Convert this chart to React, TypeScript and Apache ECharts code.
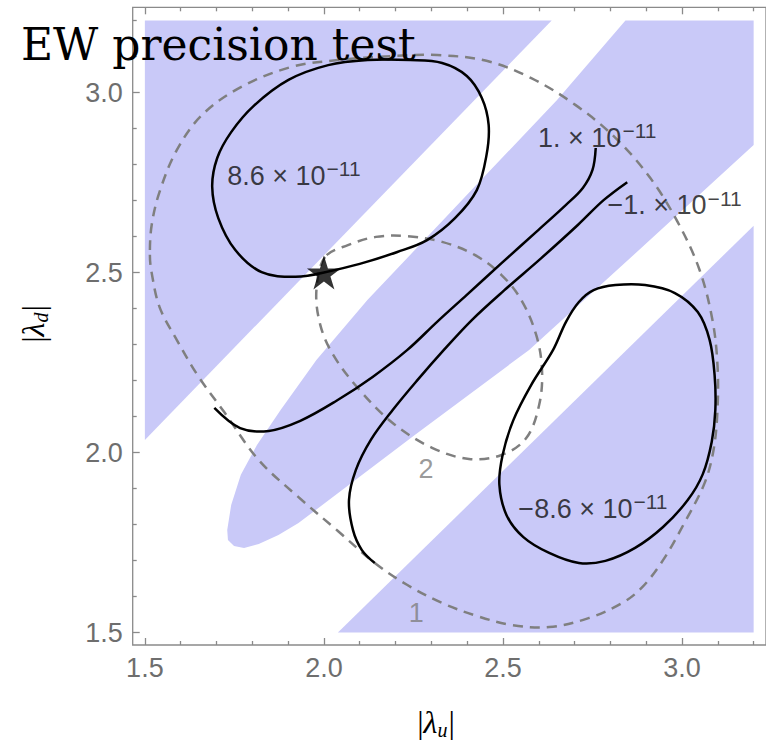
import React, { useEffect, useRef } from "react";
import * as echarts from "echarts";

// ---- axes ----
const X_MIN = 1.466;
const X_MAX = 3.2345;
const Y_MIN = 1.4653;
const Y_MAX = 3.2367;
const xMajorTicks = [1.5, 2.0, 2.5, 3.0];
const yMajorTicks = [1.5, 2.0, 2.5, 3.0];
const minorTicks = [1.6, 1.7, 1.8, 1.9, 2.1, 2.2, 2.3, 2.4, 2.6, 2.7, 2.8, 2.9, 3.1, 3.2];

// ---- shaded (allowed) regions ----
const regionTopLeft = [[1.5, 3.2], [2.636, 3.2], [1.5, 2.035]];
const regionBand = [
  [2.842, 3.2], [3.2, 3.2], [3.2, 2.854], [2.886, 2.568], [2.573, 2.285], [2.25, 2.046],
  [1.929, 1.804], [1.873, 1.771], [1.818, 1.746], [1.777, 1.735], [1.749, 1.74], [1.732, 1.757],
  [1.73, 1.785], [1.741, 1.854], [1.768, 1.938], [1.813, 2.021], [1.879, 2.118], [1.979, 2.257],
  [2.122, 2.424], [2.399, 2.715], [2.651, 2.979],
];
const regionBottomRight = [[2.039, 1.5], [3.2, 1.5], [3.2, 2.63]];

// ---- contours ----
const contourPos86 = [
  [2.0, 2.5], [1.92, 2.488], [1.826, 2.501], [1.752, 2.563], [1.705, 2.651], [1.688, 2.738],
  [1.702, 2.818], [1.741, 2.89], [1.804, 2.963], [1.901, 3.035], [2.012, 3.076], [2.122, 3.09],
  [2.241, 3.09], [2.33, 3.082], [2.399, 3.046], [2.441, 2.985], [2.46, 2.91], [2.454, 2.826],
  [2.427, 2.729], [2.366, 2.651], [2.288, 2.59], [2.205, 2.557], [2.1, 2.524], [2.0, 2.5],
];
const contourPos1 = [
  [2.759, 2.846], [2.75, 2.785], [2.723, 2.735], [2.676, 2.688], [2.593, 2.613], [2.496, 2.526],
  [2.399, 2.438], [2.316, 2.363], [2.233, 2.285], [2.136, 2.21], [2.034, 2.143], [1.934, 2.088],
  [1.846, 2.06], [1.766, 2.068], [1.694, 2.124],
];
const contourNeg1 = [
  [2.847, 2.751], [2.781, 2.701], [2.709, 2.632], [2.607, 2.54], [2.504, 2.451], [2.413, 2.368],
  [2.335, 2.285], [2.261, 2.201], [2.192, 2.118], [2.131, 2.035], [2.089, 1.951], [2.07, 1.868],
  [2.081, 1.785], [2.106, 1.729], [2.142, 1.693],
];
const contourNeg86 = [
  [2.64, 2.285], [2.676, 2.363], [2.712, 2.418], [2.753, 2.451], [2.814, 2.465], [2.897, 2.465],
  [2.98, 2.443], [3.044, 2.39], [3.077, 2.313], [3.091, 2.215], [3.093, 2.118], [3.083, 2.03],
  [3.058, 1.94], [3.016, 1.868], [2.947, 1.793], [2.869, 1.735], [2.786, 1.699], [2.712, 1.693],
  [2.629, 1.721], [2.557, 1.765], [2.51, 1.826], [2.49, 1.91], [2.499, 1.993], [2.529, 2.09],
  [2.579, 2.188],
];

// ---- dashed contours ----
const dashed1 = [
  [1.514, 2.549], [1.519, 2.499], [1.541, 2.404], [1.589, 2.313], [1.647, 2.215], [1.721, 2.113],
  [1.818, 1.979], [1.929, 1.876], [2.039, 1.782], [2.142, 1.693], [2.233, 1.632], [2.33, 1.582],
  [2.427, 1.546], [2.524, 1.521], [2.629, 1.515], [2.739, 1.54], [2.833, 1.582], [2.889, 1.626],
  [2.947, 1.701], [3.008, 1.807], [3.063, 1.915], [3.088, 2.007], [3.099, 2.118], [3.099, 2.243],
  [3.085, 2.368], [3.049, 2.507], [2.988, 2.64], [2.911, 2.763], [2.814, 2.874], [2.703, 2.965],
  [2.579, 3.04], [2.454, 3.088], [2.316, 3.104], [2.186, 3.101], [2.039, 3.09], [1.909, 3.071],
  [1.768, 3.015], [1.66, 2.938], [1.589, 2.84], [1.541, 2.724], [1.519, 2.632],
];
const dashed2 = [
  [2.003, 2.543], [1.979, 2.451], [1.99, 2.354], [2.026, 2.271], [2.095, 2.179], [2.192, 2.082],
  [2.302, 2.013], [2.405, 1.982], [2.496, 1.993], [2.565, 2.04], [2.601, 2.132], [2.609, 2.229],
  [2.593, 2.326], [2.551, 2.424], [2.496, 2.493], [2.421, 2.549], [2.33, 2.585], [2.233, 2.601],
  [2.145, 2.599], [2.067, 2.576],
];

const starPoint = [[2.0, 2.5]];

const contourLabels = [
  { pos: [1.73, 2.774], base: "8.6 × 10", exp: "−11" },
  { pos: [2.598, 2.88], base: "1. × 10", exp: "−11" },
  { pos: [2.792, 2.693], base: "−1. × 10", exp: "−11" },
  { pos: [2.543, 1.849], base: "−8.6 × 10", exp: "−11" },
];
const dashedLabels = [
  { pos: [2.285, 1.955], text: "2" },
  { pos: [2.258, 1.555], text: "1" },
];

const BLUE = "#c9c9f8";
const GRAY = "#8a8a8a";
const LABEL_GRAY = "#6e6e6e";
const SANS = "Liberation Sans, Arial, sans-serif";

function shapeSeries(name: string, pts: number[][], closed: boolean, style: any, z: number) {
  return {
    type: "custom",
    name,
    coordinateSystem: "cartesian2d",
    xAxisIndex: 0,
    yAxisIndex: 0,
    z,
    silent: true,
    data: [[2, 2]],
    renderItem: (_params: any, api: any) => ({
      type: closed ? "polygon" : "polyline",
      shape: { points: pts.map((p) => api.coord(p)), smooth: style.smooth ?? 0 },
      style: style.fill
        ? { fill: style.fill, stroke: "none" }
        : { fill: "none", stroke: style.color, lineWidth: style.width, lineDash: style.dash },
    }),
  };
}

function xAxisDef(position: string, ticks: number[], len: number, labels: boolean) {
  return {
    type: "value",
    gridIndex: 0,
    position,
    min: X_MIN,
    max: X_MAX,
    axisLine: { show: false },
    splitLine: { show: false },
    axisTick: { show: true, inside: true, length: len, customValues: ticks, lineStyle: { color: GRAY, width: 1.3 } },
    axisLabel: labels
      ? { show: true, customValues: ticks, formatter: (v: number) => v.toFixed(1), fontSize: 27, fontFamily: SANS, color: LABEL_GRAY, margin: 9 }
      : { show: false },
  };
}
function yAxisDef(position: string, ticks: number[], len: number, labels: boolean) {
  return {
    type: "value",
    gridIndex: 0,
    position,
    min: Y_MIN,
    max: Y_MAX,
    axisLine: { show: false },
    splitLine: { show: false },
    axisTick: { show: true, inside: true, length: len, customValues: ticks, lineStyle: { color: GRAY, width: 1.3 } },
    axisLabel: labels
      ? { show: true, customValues: ticks, formatter: (v: number) => v.toFixed(1), fontSize: 27, fontFamily: SANS, color: LABEL_GRAY, margin: 10 }
      : { show: false },
  };
}

const axisTitleRich = {
  n: { fontSize: 32, fontFamily: "Liberation Serif", color: "#222", lineHeight: 36, verticalAlign: "middle" },
  l: { fontSize: 32, fontFamily: "Liberation Serif", fontStyle: "italic", color: "#222", lineHeight: 36, verticalAlign: "middle" },
  s: { fontSize: 20, fontFamily: "Liberation Serif", fontStyle: "italic", color: "#222", lineHeight: 24, verticalAlign: "bottom", padding: [0, 1, 0, 0] },
};

export default function App() {
  const ref = useRef<HTMLDivElement>(null);
  useEffect(() => {
    if (!ref.current) return;
    const chart = echarts.init(ref.current, undefined, { renderer: "svg" });
    const solid = { color: "#000", width: 2.5, smooth: 0.35 };
    const dashed = { color: "#7f7f7f", width: 2.5, dash: [10, 7], smooth: 0.35 };
    chart.setOption({
      animation: false,
      backgroundColor: "#fff",
      grid: { left: 132.7, top: 7.3, width: 639.3, height: 637.7, show: true, borderColor: GRAY, borderWidth: 1.3, backgroundColor: "transparent" },
      xAxis: [
        xAxisDef("bottom", xMajorTicks, 7, true),
        xAxisDef("bottom", minorTicks, 4, false),
        xAxisDef("top", xMajorTicks, 7, false),
        xAxisDef("top", minorTicks, 4, false),
      ],
      yAxis: [
        yAxisDef("left", yMajorTicks, 7, true),
        yAxisDef("left", minorTicks, 4, false),
      ],
      graphic: [
        {
          type: "text",
          left: 21,
          top: 22,
          z: 100,
          style: { text: "EW precision test", fill: "#000", font: "44px 'DejaVu Serif', serif" },
        },
        {
          type: "text",
          x: 436,
          y: 722,
          z: 100,
          style: {
            text: "{n||}{l|λ}{s|u}{n||}",
            align: "center",
            verticalAlign: "middle",
            textAlign: "center",
            textVerticalAlign: "middle",
            rich: axisTitleRich,
          },
        },
        {
          type: "text",
          x: 33,
          y: 324,
          rotation: Math.PI / 2,
          z: 100,
          style: {
            text: "{n||}{l|λ}{s|d}{n||}",
            align: "center",
            verticalAlign: "middle",
            textAlign: "center",
            textVerticalAlign: "middle",
            rich: axisTitleRich,
          },
        },
      ],
      series: [
        shapeSeries("region-top-left", regionTopLeft, true, { fill: BLUE }, 1),
        shapeSeries("region-band", regionBand, true, { fill: BLUE }, 1),
        shapeSeries("region-bottom-right", regionBottomRight, true, { fill: BLUE }, 1),
        shapeSeries("dashed-1", dashed1, true, dashed, 2),
        shapeSeries("dashed-2", dashed2, true, dashed, 2),
        shapeSeries("contour 8.6e-11", contourPos86, false, solid, 3),
        shapeSeries("contour 1e-11", contourPos1, false, solid, 3),
        shapeSeries("contour -1e-11", contourNeg1, false, solid, 3),
        shapeSeries("contour -8.6e-11", contourNeg86, true, solid, 3),
        {
          type: "scatter",
          name: "benchmark",
          z: 5,
          silent: true,
          symbol: "path://M50,0 L61.2,34.5 L97.6,34.5 L68.2,55.9 L79.4,90.5 L50,69.1 L20.6,90.5 L31.8,55.9 L2.4,34.5 L38.8,34.5 Z",
          symbolSize: 34,
          itemStyle: { color: "#000" },
          data: starPoint,
        },
        {
          type: "scatter",
          name: "contour labels",
          z: 6,
          silent: true,
          symbolSize: 0,
          data: contourLabels.map((l) => ({
            value: l.pos,
            label: {
              show: true,
              position: "right",
              distance: 0,
              formatter: `{b|${l.base}}{s|${l.exp}}`,
              rich: {
                b: { fontSize: 27, fontFamily: SANS, color: "#111", lineHeight: 31, verticalAlign: "bottom" },
                s: { fontSize: 21, fontFamily: SANS, color: "#111", lineHeight: 21, verticalAlign: "top", padding: [0, 0, 0, 1] },
              },
            },
          })),
        },
        {
          type: "scatter",
          name: "dashed labels",
          z: 6,
          silent: true,
          symbolSize: 0,
          data: dashedLabels.map((l) => ({
            value: l.pos,
            label: { show: true, position: "inside", formatter: l.text, fontSize: 27, fontFamily: SANS, color: "#7f7f7f" },
          })),
        },
      ],
    });
    return () => chart.dispose();
  }, []);
  return <div ref={ref} style={{ position: "fixed", left: 0, top: 0, width: 766, height: 745 }} />;
}
